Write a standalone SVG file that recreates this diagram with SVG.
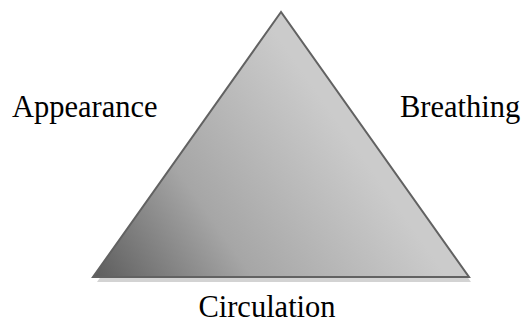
<svg xmlns="http://www.w3.org/2000/svg" width="522" height="324" viewBox="0 0 522 324">
<style>
.lbl{font-family:'Liberation Serif','Times New Roman',serif;font-size:30.5px;fill:#000}
</style>
<defs>
<linearGradient id="g" x1="93" y1="277" x2="330" y2="110" gradientUnits="userSpaceOnUse">
<stop offset="0" stop-color="#5c5c5c"/>
<stop offset="0.45" stop-color="#a6a6a6"/>
<stop offset="1" stop-color="#cbcbcb"/>
</linearGradient>
</defs>
<g id="triangle">
<polygon points="283,16 97,282 471,282" fill="#c4c4c4" opacity="0.75"/>
<polygon points="281,12 93,277 469,277" fill="url(#g)" stroke="#626262" stroke-width="2" stroke-linejoin="miter"/>
</g>
<g id="appearance"><text class="lbl" x="12" y="117">Appearance</text></g>
<g id="breathing"><text class="lbl" x="400" y="117">Breathing</text></g>
<g id="circulation"><text class="lbl" x="267" y="317" text-anchor="middle">Circulation</text></g>
<g id="connectors"></g>
</svg>
